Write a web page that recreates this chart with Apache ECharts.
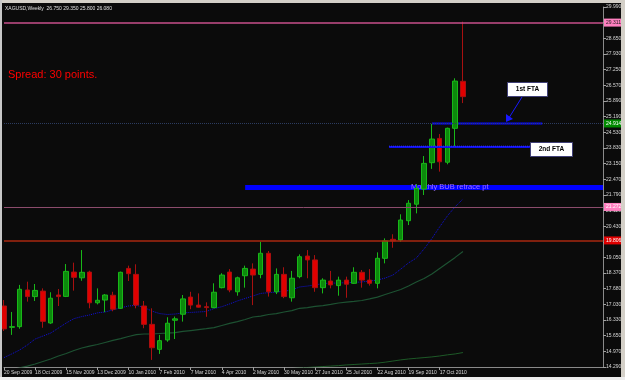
<!DOCTYPE html>
<html><head><meta charset="utf-8">
<script src="https://cdn.jsdelivr.net/npm/echarts@6/dist/echarts.min.js"></script>
<style>html,body{margin:0;padding:0;background:#0b0b0b;}#c{width:625px;height:380px;}</style>
</head><body><div id="c"></div>
<script>
const xLabels = ['20 Sep 2009','18 Oct 2009','15 Nov 2009','13 Dec 2009','10 Jan 2010','7 Feb 2010','7 Mar 2010','4 Apr 2010','2 May 2010','30 May 2010','27 Jun 2010','25 Jul 2010','22 Aug 2010','19 Sep 2010','17 Oct 2010'];
const yTickLabels = ['14.290','14.970','15.650','16.330','17.030','17.680','18.370','19.050','19.730','20.430','21.110','21.790','22.470','23.150','23.830','24.530','25.190','25.890','26.570','27.250','27.930','28.650','29.310','29.990'];
const opens  = [16.95,16.02,16.05,17.65,17.36,17.60,16.21,17.43,17.37,18.43,18.18,18.43,17.09,17.21,17.42,16.85,18.59,18.33,16.95,16.15,15.06,15.47,16.33,16.59,17.34,16.99,16.92,16.88,17.75,18.43,17.57,18.27,18.56,18.33,19.25,17.57,18.33,17.31,18.23,19.13,18.96,17.75,18.04,17.84,18.08,17.94,18.42,18.08,17.94,19.03,19.86,19.83,20.67,21.39,22.05,23.20,24.26,23.22,24.70,26.75];
const closes = [15.95,16.05,17.68,17.36,17.63,16.28,17.29,17.36,18.46,18.20,18.42,17.09,17.20,17.43,16.81,18.42,18.36,16.99,16.15,15.13,15.44,16.20,16.39,17.26,16.99,16.90,16.88,17.55,18.30,17.65,18.18,18.59,18.30,19.25,17.57,18.33,17.36,18.16,19.10,18.96,17.75,18.08,17.87,18.08,17.90,18.42,18.08,17.94,19.03,19.79,19.79,20.70,21.43,22.08,23.17,24.23,23.24,24.70,26.76,26.08];
const lows   = [15.86,15.69,15.96,17.14,17.17,16.00,16.17,16.95,17.34,17.62,18.05,16.85,17.02,16.68,16.72,16.82,18.04,16.85,15.98,14.60,14.86,15.39,15.51,16.27,16.81,16.88,16.48,16.85,17.72,17.55,17.40,17.75,16.99,18.16,17.36,17.47,17.29,17.14,18.16,18.16,17.57,17.50,17.72,17.40,17.31,17.91,17.75,17.84,17.72,18.81,19.49,19.75,20.48,20.99,21.79,22.93,22.81,23.13,23.90,25.80];
const highs  = [17.21,16.69,17.87,18.01,17.91,17.72,17.55,17.69,18.78,18.84,19.39,18.49,17.72,17.47,17.57,18.45,18.71,18.77,17.17,16.85,15.69,16.46,16.49,17.43,17.57,17.50,17.11,17.94,18.38,18.56,18.23,18.71,18.81,19.75,19.35,18.59,18.64,18.48,19.20,19.39,19.17,18.16,18.48,18.23,18.23,18.64,18.52,18.56,19.29,19.90,20.08,20.95,21.57,22.26,23.49,24.89,24.45,24.73,26.88,29.35];
const maFast = [14.70,14.86,15.03,15.25,15.51,15.64,15.77,15.99,16.21,16.40,16.49,16.56,16.65,16.69,16.78,16.87,16.95,16.98,16.89,16.73,16.62,16.58,16.60,16.65,16.67,16.69,16.71,16.84,16.92,17.04,17.17,17.28,17.39,17.50,17.53,17.56,17.59,17.65,17.78,17.82,17.87,17.93,17.95,17.95,17.97,17.98,18.00,18.04,18.08,18.17,18.30,18.56,18.83,19.04,19.44,19.89,20.40,20.88,21.28,21.62];
const maMid  = [14.07,14.16,14.25,14.33,14.42,14.53,14.64,14.77,14.88,15.01,15.12,15.20,15.27,15.36,15.45,15.53,15.62,15.70,15.73,15.73,15.75,15.77,15.79,15.84,15.88,15.92,15.96,16.01,16.10,16.19,16.27,16.36,16.47,16.51,16.58,16.62,16.69,16.75,16.85,16.88,16.93,16.97,17.02,17.08,17.12,17.15,17.19,17.26,17.34,17.45,17.56,17.67,17.82,18.00,18.15,18.35,18.59,18.83,19.07,19.33];
const maSlow = [null,null,null,null,null,null,null,null,null,null,null,null,null,null,null,null,null,null,null,null,null,null,null,null,null,null,null,null,null,null,null,null,null,null,null,null,14.20,14.22,14.25,14.27,14.29,14.31,14.33,14.35,14.38,14.40,14.42,14.44,14.46,14.50,14.55,14.60,14.64,14.67,14.70,14.73,14.77,14.82,14.86,14.92];
const priceLevels = [29.311, 26.080, 24.914, 21.272, 19.806];
const levelNames = ['pink','bid','fta','pink2','red'];
const fta1Level = 24.914, fta2Level = 23.88, bubLevel = 22.12;
const fta1Span = [55, 69.2], fta2Span = [49.5, 67.6], bubSpan = [31, 77];
const nSlots = 78;

const categories = Array.from({length: nSlots}, (_, i) => String(i));
const candles = opens.map((o, i) => [o, closes[i], lows[i], highs[i]]);
const isLabelIdx = (i) => i % 4 === 0 && i / 4 < xLabels.length;

const levelStyles = {
  pink:  {line: {color: '#c8508c', width: 1.5, type: 'solid', opacity: 1}, bg: '#ff80c0', fg: '#202020'},
  bid:   {line: {color: '#000', width: 1, opacity: 0}, bg: '#ffffff', fg: '#000000'},
  fta:   {line: {color: '#2c3c60', width: 1, type: 'dotted', opacity: 1}, bg: '#008a00', fg: '#ffffff'},
  pink2: {line: {color: '#8c4c6c', width: 1, type: 'solid', opacity: 1}, bg: '#ff80c0', fg: '#ffffff'},
  red:   {line: {color: '#a82810', width: 1.5, type: 'solid', opacity: 1}, bg: '#e00000', fg: '#ffffff'}
};

const markData = priceLevels.map((v, i) => {
  const s = levelStyles[levelNames[i]];
  return {
    yAxis: v,
    lineStyle: s.line,
    label: {show: true, position: 'end', distance: 1, formatter: v.toFixed(3),
      backgroundColor: s.bg, color: s.fg, fontSize: 5, fontFamily: 'Liberation Sans', padding: [2, 2, 1, 2]}
  };
});

const seg = (span, lvl) => [[span[0], lvl], [span[1], lvl]];

const chart = echarts.init(document.getElementById('c'), null, {renderer: 'canvas'});
chart.setOption({
  backgroundColor: '#0b0b0b',
  animation: false,
  grid: {left: 4, right: 22, top: 7, bottom: 13},
  xAxis: [
    {type: 'category', data: categories, boundaryGap: false,
      axisLine: {lineStyle: {color: '#8a8a8a'}},
      axisTick: {show: true, length: 3, interval: isLabelIdx, lineStyle: {color: '#a0a0a0'}},
      axisLabel: {interval: isLabelIdx, formatter: (v, i) => (i % 4 === 0 ? (xLabels[i / 4] || '') : ''),
        align: 'left', color: '#d8d8d8', fontSize: 5, fontFamily: 'Liberation Sans', margin: 3},
      splitLine: {show: false}},
    {type: 'value', min: 0, max: nSlots - 1, show: false}
  ],
  yAxis: [
    {type: 'value', min: 14.29, max: 29.99, show: false},
    {type: 'value', min: 0, max: yTickLabels.length - 1, interval: 1, position: 'right',
      axisLine: {show: true, lineStyle: {color: '#8a8a8a'}},
      axisTick: {show: true, length: 3, lineStyle: {color: '#a0a0a0'}},
      axisLabel: {formatter: (v) => yTickLabels[v] || '', color: '#d8d8d8', fontSize: 5, fontFamily: 'Liberation Sans', margin: 3},
      splitLine: {show: false}}
  ],
  series: [
    {type: 'line', xAxisIndex: 0, yAxisIndex: 0, data: [], z: 1, silent: true,
      markLine: {symbol: ['none', 'none'], silent: true, data: markData}},
    {type: 'line', xAxisIndex: 1, yAxisIndex: 0, data: seg(bubSpan, bubLevel), symbol: 'none', z: 1,
      lineStyle: {color: '#0000ff', width: 5}},
    {type: 'line', xAxisIndex: 1, yAxisIndex: 0, data: seg(fta1Span, fta1Level), symbol: 'none', z: 1,
      lineStyle: {color: '#0808ff', width: 2}},
    {type: 'line', xAxisIndex: 0, yAxisIndex: 0, data: maSlow, symbol: 'none', z: 1.5,
      lineStyle: {color: '#1e5a28', width: 1}},
    {type: 'line', xAxisIndex: 0, yAxisIndex: 0, data: maMid, symbol: 'none', z: 1.5,
      lineStyle: {color: '#1d5232', width: 1.2}},
    {type: 'line', xAxisIndex: 0, yAxisIndex: 0, data: maFast, symbol: 'none', z: 1.5,
      lineStyle: {color: '#1010e0', width: 1, type: 'dotted'}},
    {type: 'candlestick', xAxisIndex: 0, yAxisIndex: 0, data: candles, barWidth: 5, z: 3,
      itemStyle: {color: '#0c8a0c', color0: '#e00000', borderColor: '#18b818', borderColor0: '#a81010', borderWidth: 1}},
    {type: 'line', xAxisIndex: 1, yAxisIndex: 0, data: seg(fta2Span, fta2Level), symbol: 'none', z: 4,
      lineStyle: {color: '#1010f0', width: 2}},
    {type: 'line', xAxisIndex: 1, yAxisIndex: 0, data: seg(fta2Span, fta2Level + 0.04), symbol: 'none', z: 4,
      lineStyle: {color: '#3a3aff', width: 1, type: 'dotted'}}
  ],
  graphic: [
    {type: 'text', left: 411, top: 183, z: 2.5, style: {text: 'Monthly BUB retrace pt', fill: '#a070ff', fontSize: 7.5, fontFamily: 'Liberation Sans'}},
    {type: 'text', left: 5, top: 6, z: 100, style: {text: 'XAGUSD,Weekly  26.750 29.350 25.800 26.080', fill: '#e0e0e0', fontSize: 5, fontFamily: 'Liberation Sans'}},
    {type: 'text', left: 8, top: 69, z: 100, style: {text: 'Spread: 30 points.', fill: '#ff0000', fontSize: 11, fontFamily: 'Liberation Sans'}},
    {type: 'rect', z: 100, shape: {x: 507.5, y: 82.5, width: 40, height: 14}, style: {fill: '#ffffff', stroke: '#404078', lineWidth: 1}},
    {type: 'text', z: 101, x: 527.5, y: 89.5, style: {text: '1st FTA', fill: '#000', fontSize: 6.5, fontWeight: 'bold', fontFamily: 'Liberation Sans', align: 'center', verticalAlign: 'middle'}},
    {type: 'rect', z: 100, shape: {x: 530.5, y: 142.5, width: 42, height: 14}, style: {fill: '#ffffff', stroke: '#404078', lineWidth: 1}},
    {type: 'text', z: 101, x: 551.5, y: 149.5, style: {text: '2nd FTA', fill: '#000', fontSize: 6.5, fontWeight: 'bold', fontFamily: 'Liberation Sans', align: 'center', verticalAlign: 'middle'}},
    {type: 'line', z: 100, shape: {x1: 522, y1: 97, x2: 507, y2: 121}, style: {stroke: '#1818ff', lineWidth: 1}},
    {type: 'polygon', z: 100, shape: {points: [[506, 122], [506, 114], [513, 119]]}, style: {fill: '#1818ff'}},
    {type: 'rect', z: 200, shape: {x: 0, y: 0, width: 625, height: 3}, style: {fill: '#d4d0c8'}},
    {type: 'rect', z: 200, shape: {x: 0, y: 0, width: 2, height: 380}, style: {fill: '#c8c8c8'}},
    {type: 'rect', z: 200, shape: {x: 621, y: 0, width: 4, height: 380}, style: {fill: '#d4d0c8'}},
    {type: 'rect', z: 200, shape: {x: 0, y: 377, width: 625, height: 3}, style: {fill: '#eeeeee'}}
  ]
});
</script></body></html>
